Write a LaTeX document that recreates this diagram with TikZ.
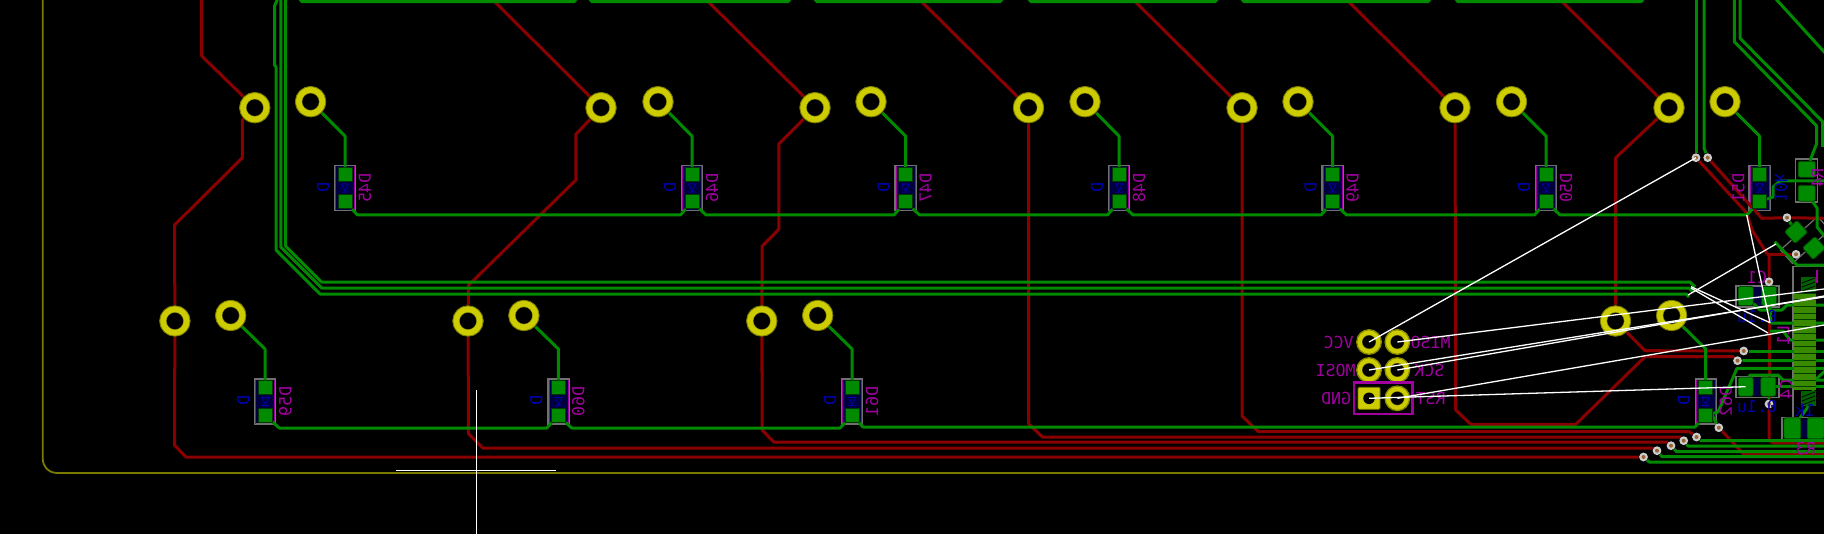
\documentclass[tikz,border=0pt]{standalone}
\usepackage{fontspec}
\newfontfamily\pcbfont{DejaVu Sans Mono}
\definecolor{fcu}{HTML}{008A00}
\definecolor{bcu}{HTML}{8A0000}
\definecolor{padyel}{HTML}{CCCC00}
\definecolor{edgeol}{HTML}{7A7A00}
\definecolor{silk}{HTML}{A000A0}
\definecolor{fab}{HTML}{0000B0}
\definecolor{navy}{HTML}{000040}
\definecolor{icgreen}{HTML}{3A8A00}
\definecolor{casegray}{HTML}{707070}
\pgfdeclarelayer{board}
\pgfdeclarelayer{backcu}
\pgfdeclarelayer{frontcu}
\pgfsetlayers{board,backcu,frontcu,main}
\newcommand{\smdiode}[5]{
\begin{scope}[shift={(#2,#3)}]
	\begin{pgfonlayer}{board}
	\node[dbody] (#1b) at (0,0) {};
	\draw[silk,line width=.4pt] (-9.5,-22) -- (-9.5,22) (9.5,-22) -- (9.5,22);
	\end{pgfonlayer}
	\node[smd] (#1a) at (0,-13.8) {};
	\node[smd] (#1k) at (0,13.8) {};
	\draw[fab,line width=.35pt] (-3.5,-4) -- (3.5,-4) -- (0,3) -- cycle (-3.5,4) -- (3.5,4);
	\node[reftxt] (#1r) at (#5,0) {#4};
\end{scope}
}
\begin{document}
\begin{tikzpicture}[x=0.5pt,y=-0.5pt,
	via/.style={circle,draw=edgeol,fill=black,line width=.3pt,double=padyel,double distance=3pt,minimum size=12pt,inner sep=0,outer sep=2pt},
	thpad/.style={circle,draw=edgeol,fill=black,line width=.3pt,double=padyel,double distance=2.5pt,minimum size=9.8pt,inner sep=0,outer sep=1.5pt},
	sqpad/.style={rectangle,draw=edgeol,fill=padyel,line width=.4pt,rounded corners=.6pt,minimum size=11pt,inner sep=0,
		path picture={\fill[black] (path picture bounding box.center) circle (2.9pt);}},
	microvia/.style={circle,fill=black!20,minimum size=4.4pt,inner sep=0,
		path picture={\fill[brown!80!black] (path picture bounding box.center) circle (1pt);}},
	smd/.style={rectangle,fill=fcu,draw=black!60!fcu,line width=.4pt,minimum width=7pt,minimum height=7pt,inner sep=0},
	capad/.style={rectangle,fill=fcu,draw=black!50!fcu,line width=.4pt,rounded corners=1pt,minimum width=7.5pt,minimum height=9.5pt,inner sep=0},
	dbody/.style={rectangle,draw=casegray,fill=navy,line width=.6pt,minimum width=10.5pt,minimum height=22.5pt,inner sep=0},
	cbody/.style={rectangle,draw=casegray,fill=black,line width=.6pt,inner sep=0},
	cu/.style={line width=1.5pt,line join=round},
	ftrace/.style={cu,draw=fcu},
	btrace/.style={cu,draw=bcu},
	ring/.style={edgeol,line width=.3pt},
	ratsnest/.style={white,line width=.65pt},
	cursor/.style={white,line width=.5pt},
	reftxt/.style={text=silk,font=\pcbfont\fontsize{8.3}{9}\selectfont,rotate=-90,yscale=-1,inner sep=0},
	valtxt/.style={text=fab,font=\pcbfont\fontsize{8.3}{9}\selectfont,rotate=-90,yscale=-1,inner sep=0},
	mirtxt/.style={text=silk,font=\pcbfont\fontsize{8.3}{9}\selectfont,xscale=-1,inner sep=0}]
\useasboundingbox (0,0) rectangle (1824,534);
\begin{pgfonlayer}{board}
\fill[black] (0,0) rectangle (1824,534);
\draw[edgeol,line width=.9pt] (42.7,-2) -- (42.7,458) .. controls (42.7,467) and (49,473) .. (57.4,473) -- (1826,473);
\node[cbody,minimum width=21.5pt,minimum height=10.5pt] (c1b) at (1757.5,296.5) {};
\node[cbody,minimum width=21.5pt,minimum height=10.5pt] (c4b) at (1757.5,386.7) {};
\node[cbody,minimum width=23pt,minimum height=11pt] (r1b) at (1805,428.3) {};
\node[cbody,minimum width=11pt,minimum height=21.5pt] (r2b) at (1806.8,180.5) {};
\fill[navy] (1753,287) rectangle (1762,306) (1753,378) rectangle (1762,396) (1800,419) rectangle (1808,438);
\draw[casegray,line width=.6pt] (1824,266.7) -- (1793,266.7) -- (1793,417);
\draw[casegray,line width=.6pt,rotate around={42:(1805,240)}] (1780,231) rectangle (1830,249);
\end{pgfonlayer}
\foreach \i/\x/\sx/\dx/\lab in {1/254.8/310.6/345/45,2/601/658/692/46,3/815/871/905.5/47,4/1028.5/1085/1119/48,5/1242/1298/1332.5/49,6/1455/1511.5/1546/50}{
	\node[via] (v\i) at (\x,107.7) {};
	\node[via] (s\i) at (\sx,101.7) {};
	\draw[ring] (v\i.center) circle (7.5pt) (s\i.center) circle (7.5pt);
	\smdiode{dt\i}{\dx}{188}{D\lab}{20}
	\node[valtxt] (dt\i v) at (\dx-22,187) {D};
}
\node[via] (v7) at (1669,107.7) {};
\node[via] (s7) at (1725,101.7) {};
\draw[ring] (v7.center) circle (7.5pt) (s7.center) circle (7.5pt);
\smdiode{dt7}{1759.5}{188}{D51}{-21}
\node[valtxt,rotate=180] (dt7v) at (1781,188) {10k};
\foreach \i/\x/\sx/\dx/\lab in {1/174.9/230.7/265.3/59,2/468/523.9/558.4/60,3/761.8/817.7/852.1/61,4/1615.5/1671.6/1705.7/62}{
	\node[via] (w\i) at (\x,321) {};
	\node[via] (u\i) at (\sx,315.5) {};
	\draw[ring] (w\i.center) circle (7.5pt) (u\i.center) circle (7.5pt);
	\smdiode{db\i}{\dx}{401.5}{D\lab}{20}
	\node[valtxt] (db\i v) at (\dx-22,400) {D};
}
\node[thpad] (vcc) at (1369,342) {};
\node[thpad] (miso) at (1397.3,342) {};
\node[thpad] (mosi) at (1369,370) {};
\node[thpad] (sck) at (1397.3,370) {};
\node[sqpad] (gnd) at (1369,398.3) {};
\node[thpad] (rst) at (1397.3,398.3) {};
\foreach \p in {vcc,miso,mosi,sck,rst}
	\draw[ring] (\p.center) circle (6pt);
\draw[silk,line width=1.3pt] (1354,382.7) rectangle (1412.3,414);
\node[mirtxt] (vcct) at (1338.7,342) {VCC};
\node[mirtxt] (misot) at (1430.7,342) {MISO};
\node[mirtxt] (mosit) at (1335.7,370) {MOSI};
\node[mirtxt] (sckt) at (1429.4,370) {SCK};
\node[mirtxt] (gndt) at (1336,398.3) {GND};
\node[mirtxt] (rstt) at (1430.7,398.3) {RST};
\node[capad] (c1a) at (1745.7,296) {};
\node[capad] (c1c) at (1769,296) {};
\node[capad] (c4a) at (1745.7,386.7) {};
\node[capad] (c4c) at (1768.3,386.7) {};
\node[capad,minimum width=8.5pt,minimum height=10.5pt] (r1a) at (1792.3,428.3) {};
\node[capad,minimum width=8.5pt,minimum height=10.5pt] (r1c) at (1815.7,428.3) {};
\node[capad,minimum width=8.5pt,minimum height=8pt] (r2a) at (1806.7,169.3) {};
\node[capad,minimum width=8.5pt,minimum height=8pt] (r2c) at (1806.7,193.3) {};
\node[capad,rotate=42,minimum width=8.5pt,minimum height=8pt] (c3a) at (1796,232) {};
\node[capad,rotate=42,minimum width=8.5pt,minimum height=8pt] (c3c) at (1814,248) {};
\foreach \i/\x/\y in {1/1643.5/457,2/1657/450.7,3/1671/445.7,4/1683.7/440.7,5/1696.5/437,6/1718.8/427.7}
	\node[microvia] (m\i) at (\x,\y) {};
\foreach \i/\x/\y in {1/1696/157.7,2/1707.7/157.7,3/1743.7/351,4/1737.5/360.7,5/1769/281.7,6/1769/404,7/1787/217.7,8/1796/254.3}
	\node[microvia] (t\i) at (\x,\y) {};
\node[text=silk,font=\pcbfont\fontsize{8.3}{9}\selectfont,xscale=-1,inner sep=0] (c1t) at (1757,277) {C1};
\node[text=fab,font=\pcbfont\fontsize{8.3}{9}\selectfont,xscale=-1,inner sep=0] (c1v) at (1757,316) {0.1u};
\node[text=fab,font=\pcbfont\fontsize{8.3}{9}\selectfont,xscale=-1,inner sep=0] (c4v) at (1757,406.7) {0.1u};
\node[reftxt] (c4t) at (1786,389) {C4};
\node[reftxt] (l1t) at (1783,335) {L1};
\node[text=fab,font=\pcbfont\fontsize{8.3}{9}\selectfont,xscale=-1,inner sep=0] (r1v) at (1805,410) {1k};
\node[mirtxt] (r1t) at (1805.7,448) {R3};
\node[reftxt] (r2t) at (1817.5,178) {R4};
\begin{pgfonlayer}{backcu}
\draw[btrace] (v1) -- (201.7,56) -- (201.7,-2);
\draw[btrace] (v1) -- (242.4,120) -- (242.4,157.7) -- (174.5,225) -- (w1);
\draw[btrace] (w1) -- (174.5,445.3) -- (186,457) -- (m1);
\draw[btrace] (v2) -- (493,0);
\draw[btrace] (v2) -- (575.9,134.3) -- (575.9,180) -- (468.5,285.3) -- (w2);
\draw[btrace] (w2) -- (468.5,433.7) -- (482.8,448) -- (1652.6,448) -- (m2);
\draw[btrace] (v3) -- (706.5,0);
\draw[btrace] (v3) -- (778.8,144) -- (778.8,229.3) -- (762.2,246) -- (w3);
\draw[btrace] (w3) -- (762.2,430.3) -- (773.8,442) -- (1667,442) -- (m3);
\draw[btrace] (v4) -- (920,0);
\draw[btrace] (v4) -- (1028.5,423.7) -- (1042.4,437) -- (1680,437) -- (m4);
\draw[btrace] (v5) -- (1133.5,0);
\draw[btrace] (v5) -- (1242,416) -- (1258,431.5) -- (1689,431.5) -- (m5);
\draw[btrace] (v6) -- (1347,0);
\draw[btrace] (v6) -- (1455.7,410) -- (1470.7,424.3) -- (1575.7,424.3) -- (1645,356.7) -- (1733,356.7) -- (t4);
\draw[btrace] (v7) -- (1560.5,0);
\draw[btrace] (v7) -- (1615.7,157.7) -- (w4);
\draw[btrace] (w4) -- (1645,350.7) -- (t3);
\draw[btrace] (t1) -- (1746.7,213) -- (1752,230) -- (1767,253.5) -- (1769,256) -- (t5);
\draw[btrace] (1767,254.3) -- (t8);
\draw[btrace] (t5) -- (t6);
\draw[btrace] (t6) -- (1769,440) -- (1773,443) -- (1826,443);
\draw[btrace] (m6) -- (1743,453.5) -- (1826,453.5);
\draw[btrace] (t2) -- (1761.7,218.3) -- (t7);
\draw[btrace] (t7) -- (1826,218.3);
\end{pgfonlayer}
\begin{pgfonlayer}{frontcu}
\foreach \a/\b/\dx in {s1/dt1a/345,s2/dt2a/692,s3/dt3a/905.5,s4/dt4a/1119,s5/dt5a/1332.5,s6/dt6a/1546,s7/dt7a/1759.5}
	\draw[ftrace] (\a) -- (\dx,136) -- (\b);
\foreach \a/\b/\dx in {u1/db1a/265,u2/db2a/558.4,u3/db3a/852.1,u4/db4a/1705.7}
	\draw[ftrace] (\a) -- (\dx,349) -- (\b);
\draw[ftrace] (dt1k) -- (357.5,215) -- (680.5,215) -- (dt2k) -- (706,215) -- (894,215) -- (dt3k) -- (919.5,215) -- (1107.5,215) -- (dt4k) -- (1133,215) -- (1321,215) -- (dt5k) -- (1346.5,215) -- (1534.5,215) -- (dt6k) -- (1560,215) -- (1746.7,215) -- (dt7k);
\draw[ftrace] (db1k) -- (279.2,428) -- (546.8,428) -- (db2k) -- (571.6,428) -- (840,428) -- (db3k) -- (863,427) -- (1695,427) -- (db4k);
\foreach \x/\xa/\xb in {302/302/574,592/592/788,817/817/1000,1031/1031/1215,1244/1244/1428,1458/1458/1641}
	\draw[ftrace] (\xa-3,-2) -- (\xa,1.7) -- (\xb,1.7) -- (\xb+3,-2);
\draw[ftrace] (278,-2) -- (274.5,6) -- (274.5,65) -- (276,67) -- (276,250) -- (320,294) -- (1686,294) -- (1689,297);
\draw[ftrace] (280.8,-2) -- (280.8,247) -- (321.8,288) -- (1689,288) -- (1693,292);
\draw[ftrace] (285.6,-2) -- (285.6,246) -- (321.6,282) -- (1690,282) -- (1695,287);
\draw[ftrace] (t1) -- (1696,-2);
\draw[ftrace] (t2) -- (1704,148) -- (1704,-2);
\draw[ftrace] (1734.3,-2) -- (1734.3,41.7) -- (1816.7,126) -- (1816.7,143.3) -- (r2a);
\draw[ftrace] (1740,-2) -- (1740,38.3) -- (1822.7,121.7) -- (1822.7,147);
\draw[ftrace] (1775,-2) -- (1826,54);
\draw[ftrace] (r2c) -- (1817,208) -- (1817,227) -- (1826,238);
\draw[ftrace] (dt7k) -- (1773,197) -- (1773,187) -- (1780,181) -- (1826,181);
\draw[ftrace] (m1) -- (1649,462) -- (1826,462);
\draw[ftrace] (m2) -- (1662,456.7) -- (1826,456.7);
\draw[ftrace] (m3) -- (1676.5,451.7) -- (1826,451.7);
\draw[ftrace] (m4) -- (1688,446) -- (1826,446);
\draw[ftrace] (m5) -- (1701,440.7) -- (1826,440.7);
\draw[ftrace] (m6) -- (1712,415) -- (db4k);
\draw[ftrace] (db4k) -- (1718,412) -- (1737,368.3) -- (1826,368.3);
\draw[ftrace] (t7) -- (c3a);
\draw[ftrace] (1774.7,241.7) -- (1797,265) -- (1826,265);
\draw[ftrace] (t8) -- (1791,259);
\draw[ftrace] (c1a) -- (1760,310) -- (1782,310) -- (1787,305) -- (1826,305);
\draw[ftrace] (t5) -- (c1c);
\draw[ftrace] (c1c) -- (1771,323) -- (1826,323);
\draw[ftrace] (1770,331) -- (1783,331) -- (1790,340) -- (1826,340);
\draw[ftrace] (t3) -- (1826,351);
\draw[ftrace] (t4) -- (1826,360.5);
\draw[ftrace] (c4a) -- (1750,375) -- (1778,375) -- (1783,380) -- (1826,380);
\draw[ftrace] (c4c) -- (1826,386.7);
\draw[ftrace] (t6) -- (c4c);
\draw[ftrace] (1826,370) -- (1813,382) -- (1813,400) -- (r1a);
\draw[silk,line width=.8pt] (1817,270) -- (1817,282) -- (1809,282) -- (1809,289);
\fill[icgreen] (1794,293) rectangle (1815.7,390);
\foreach \y in {293,299.7,...,390}
	\draw[black!55!fcu,line width=.35pt] (1794,\y) -- (1815.7,\y);
\foreach \ya in {277,391}{
	\fill[black!30!fcu] (1801,\ya) rectangle (1816,\ya+15);
	\foreach \o in {3,7,11}
		\draw[black,line width=.4pt] (1802,\ya+\o+3) -- (1815,\ya+\o-2);
}
\end{pgfonlayer}
\draw[ratsnest] (vcc.center) -- (t1.center);
\draw[ratsnest] (miso.center) -- (1824,289);
\draw[ratsnest] (mosi.center) -- (1824,297);
\draw[ratsnest] (sck.center) -- (1824,296);
\draw[ratsnest] (rst.center) -- (1824,325);
\draw[ratsnest] (gnd.center) -- (c4a.center);
\coordinate (busa) at (1691,286.7);
\coordinate (busb) at (1691,288);
\coordinate (busc) at (1688,295);
\coordinate (netd) at (1770,322.7);
\coordinate (nete) at (1768,333);
\coordinate (netf) at (1776,244);
\coordinate (netg) at (1746.7,215);
\draw[ratsnest] (busa) -- (netd);
\draw[ratsnest] (busb) -- (nete);
\draw[ratsnest] (busc) -- (netf);
\draw[ratsnest] (netg) -- (netd);
\coordinate (curl) at (396,470.3);
\coordinate (curr) at (555.7,470.3);
\coordinate (curt) at (476.6,390);
\coordinate (curb) at (476.6,536);
\draw[cursor] (curl) -- (curr);
\draw[cursor] (curt) -- (curb);
\end{tikzpicture}
\end{document}
